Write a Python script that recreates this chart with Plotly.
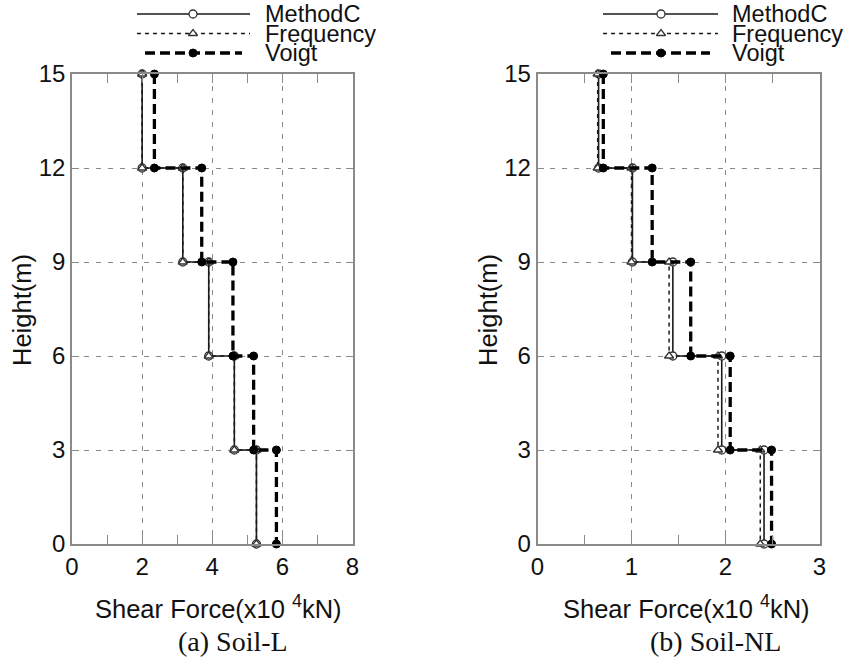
import plotly.graph_objects as go

# Storey boundaries (m), top to bottom
heights = [15, 12, 9, 6, 3, 0]

# Storey shear force (x10^4 kN), storey 5 (top) down to storey 1
soil_l_methodc = [2.00, 3.16, 3.90, 4.63, 5.26]
soil_l_frequency = [2.00, 3.16, 3.90, 4.63, 5.26]
soil_l_voigt = [2.35, 3.70, 4.59, 5.18, 5.83]

soil_nl_methodc = [0.65, 1.01, 1.44, 1.96, 2.41]
soil_nl_frequency = [0.64, 1.00, 1.40, 1.92, 2.37]
soil_nl_voigt = [0.70, 1.22, 1.63, 2.05, 2.49]

method_names = ["MethodC", "Frequency", "Voigt"]
panel_titles = ["(a) Soil-L", "(b) Soil-NL"]
x_ticks_l = [0, 2, 4, 6, 8]
x_ticks_nl = [0, 1, 2, 3]
y_ticks = [0, 3, 6, 9, 12, 15]

W, H = 843, 667
FONT = "Liberation Sans, Arial, sans-serif"
SERIF = "Liberation Serif, Times New Roman, serif"
FRAME = "#8a8a8a"
GRID = "#8a8a8a"

styles = {
    "MethodC": dict(line=dict(color="#1a1a1a", width=1.6),
                    marker=dict(symbol="circle", size=8, color="white",
                                line=dict(color="#333", width=1.3))),
    "Frequency": dict(line=dict(color="#1a1a1a", width=1.5, dash="4px,4px"),
                      marker=dict(symbol="triangle-up", size=8, color="white",
                                  line=dict(color="#333", width=1.3))),
    "Voigt": dict(line=dict(color="#000", width=3.3, dash="10px,5px"),
                  marker=dict(symbol="circle", size=8, color="#000",
                              line=dict(color="#000", width=1))),
}


def step(values):
    xs, ys = [], []
    for i, v in enumerate(values):
        xs += [v, v]
        ys += [heights[i], heights[i + 1]]
    return xs, ys


fig = go.Figure()

panels = [
    ("x", "y", [soil_l_methodc, soil_l_frequency, soil_l_voigt]),
    ("x2", "y2", [soil_nl_methodc, soil_nl_frequency, soil_nl_voigt]),
]
for xa, ya, series in panels:
    for name, vals in zip(method_names, series):
        xs, ys = step(vals)
        st = styles[name]
        fig.add_trace(go.Scatter(x=xs, y=ys, mode="lines+markers", name=name,
                                 line=st["line"], marker=st["marker"],
                                 xaxis=xa, yaxis=ya, showlegend=False,
                                 cliponaxis=False))

# Legend keys drawn on a pixel-space overlay axis
legend_rows = [14, 33.5, 53]
legend_boxes = [(137, 250, 193, 264), (603, 718, 661, 731)]
for x0, x1, xm, xt in legend_boxes:
    for name, yr in zip(method_names, legend_rows):
        st = styles[name]
        a, b = (x0, x1) if name != "Voigt" else (x0 + 8, x1 - 8)
        fig.add_trace(go.Scatter(x=[a, xm, b], y=[yr, yr, yr], mode="lines+markers",
                                 line=st["line"],
                                 marker=dict(st["marker"], opacity=[0, 1, 0]),
                                 xaxis="x3", yaxis="y3", showlegend=False,
                                 hoverinfo="skip"))
        fig.add_annotation(x=xt / W, y=1 - yr / H, xref="paper", yref="paper",
                           text=name, showarrow=False, xanchor="left",
                           yanchor="middle", borderpad=0,
                           font=dict(family=FONT, size=23.5, color="#111"))

# Plot area geometry (paper fractions)
y_dom = [1 - 544 / H, 1 - 74 / H]
x_dom_l = [72 / W, 352.5 / W]
x_dom_nl = [537.5 / W, 819.5 / W]

axis_common = dict(showline=True, linecolor=FRAME, linewidth=1.5, mirror="ticks",
                   ticks="inside", ticklen=9, tickcolor=FRAME, tickwidth=1.2,
                   showgrid=True, gridcolor=GRID, gridwidth=1, griddash="5px,7px",
                   zeroline=False, automargin=False,
                   tickfont=dict(family=FONT, size=24, color="#111"))

fig.update_layout(
    width=W, height=H, margin=dict(l=0, r=0, t=0, b=0, autoexpand=False),
    paper_bgcolor="white", plot_bgcolor="rgba(0,0,0,0)", showlegend=False,
    xaxis=dict(axis_common, domain=x_dom_l, range=[0, 8], tickvals=x_ticks_l,
               anchor="y", minor=dict(tickvals=[1, 3, 5, 7], ticks="inside", ticklen=9,
                                      tickcolor=FRAME, showgrid=False)),
    yaxis=dict(axis_common, domain=y_dom, range=[0, 15], tickvals=y_ticks, anchor="x",
               ticklen=7),
    xaxis2=dict(axis_common, domain=x_dom_nl, range=[0, 3], tickvals=x_ticks_nl,
                anchor="y2", minor=dict(tickvals=[0.5, 1.5, 2.5], ticks="inside", ticklen=9,
                                        tickcolor=FRAME, showgrid=False)),
    yaxis2=dict(axis_common, domain=y_dom, range=[0, 15], tickvals=y_ticks, anchor="x2",
                ticklen=7),
    xaxis3=dict(domain=[0, 1], range=[0, W], visible=False, anchor="y3",
                fixedrange=True, automargin=False),
    yaxis3=dict(domain=[0, 1], range=[H, 0], visible=False, anchor="x3",
                fixedrange=True, automargin=False),
)

# Axis titles and panel captions
for cx, hx, cap_x, cap in [(218, 22, 233, panel_titles[0]), (686, 488, 715, panel_titles[1])]:
    fig.add_annotation(x=cx / W, y=1 - 607 / H, xref="paper", yref="paper",
                       text="Shear Force(x10 <sup>4</sup>kN)", showarrow=False,
                       xanchor="center", yanchor="middle",
                       font=dict(family=FONT, size=25.5, color="#111"))
    fig.add_annotation(x=hx / W, y=1 - 310 / H, xref="paper", yref="paper",
                       text="Height(m)", showarrow=False, textangle=-90,
                       xanchor="center", yanchor="middle",
                       font=dict(family=FONT, size=25.5, color="#111"))
    fig.add_annotation(x=cap_x / W, y=1 - 641 / H, xref="paper", yref="paper",
                       text=cap, showarrow=False, xanchor="center", yanchor="middle",
                       font=dict(family=SERIF, size=28, color="#111"))

fig.write_html("out.html")
